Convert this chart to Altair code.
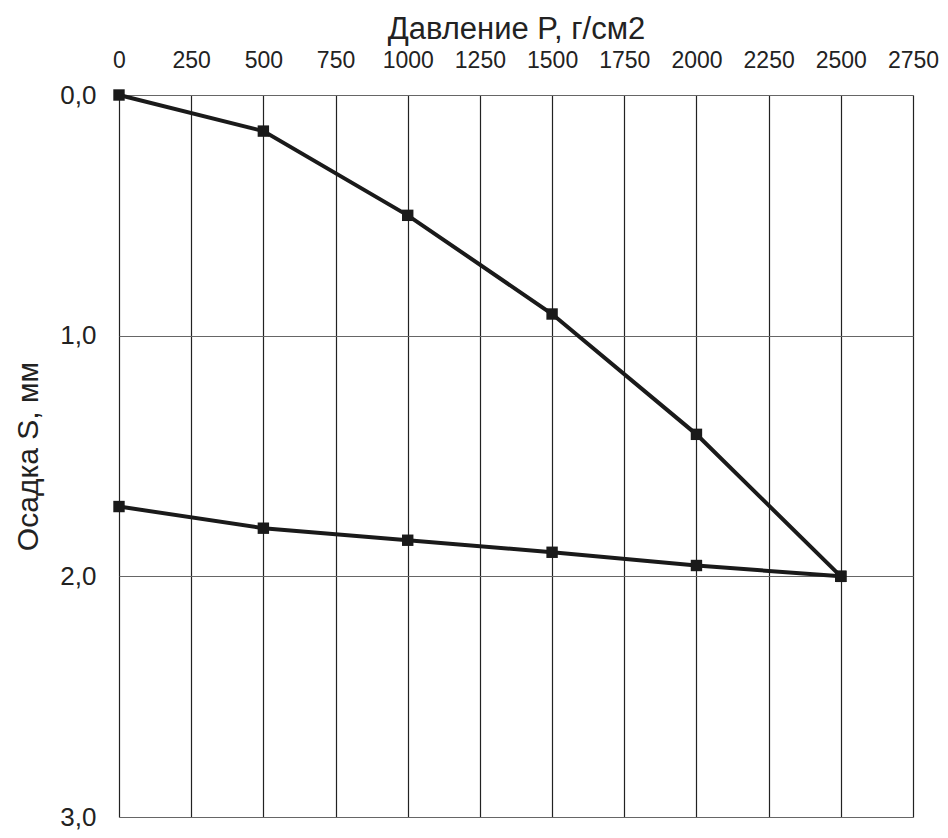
import altair as alt
import pandas as pd

pressure = [0, 500, 1000, 1500, 2000, 2500]
loading = [0.0, 0.15, 0.50, 0.91, 1.41, 2.0]
unloading = [1.71, 1.80, 1.85, 1.90, 1.955, 2.0]

x_ticks = [0, 250, 500, 750, 1000, 1250, 1500, 1750, 2000, 2250, 2500, 2750]
y_ticks = [0, 1, 2, 3]

rows = []
for p, v in zip(pressure, loading):
    rows.append({"P": p, "S": v, "series": "load"})
for p, v in zip(pressure, unloading):
    rows.append({"P": p, "S": v, "series": "unload"})
df = pd.DataFrame(rows)

FONT = "Liberation Sans, Arial"

x = alt.X("P:Q", scale=alt.Scale(domain=[0, 2750], nice=False, zero=False),
          axis=alt.Axis(orient="top", values=x_ticks, title="Давление P, г/см2", format="d",
                        labelFontSize=23, titleFontSize=31, labelFont=FONT, titleFont=FONT,
                        labelColor="#222", titleColor="#222", titleFontWeight="normal",
                        domain=False, ticks=False, labelPadding=23, titlePadding=4,
                        grid=True, gridColor="#222", gridWidth=1.2, gridOpacity=1,
                        labelFlush=False, labelOverlap=False))
y = alt.Y("S:Q", scale=alt.Scale(domain=[0, 3], reverse=True, nice=False),
          axis=alt.Axis(values=y_ticks, title="Осадка S, мм",
                        labelExpr="replace(format(datum.value, '.1f'), '.', ',')",
                        labelFontSize=26, titleFontSize=30, labelFont=FONT, titleFont=FONT,
                        labelColor="#222", titleColor="#222", titleFontWeight="normal",
                        domain=False, ticks=False, labelPadding=23, titlePadding=16,
                        grid=True, gridColor="#666", gridWidth=1.2, gridOpacity=1,
                        labelFlush=False))

base = alt.Chart(df)
lines = base.mark_line(color="#1a1a1a", strokeWidth=4).encode(x=x, y=y, detail="series:N")
pts = base.mark_square(color="#1a1a1a", size=130, opacity=1).encode(x=x, y=y)

chart = (lines + pts).properties(
    width=794, height=722,
    autosize=alt.AutoSizeParams(type="none"),
    padding={"left": 111, "top": 87, "right": 27, "bottom": 13},
).configure_view(
    stroke="#555", strokeWidth=2.5
).configure(background="white")

chart.save("out.html", embed_options={"renderer": "svg", "actions": False})
